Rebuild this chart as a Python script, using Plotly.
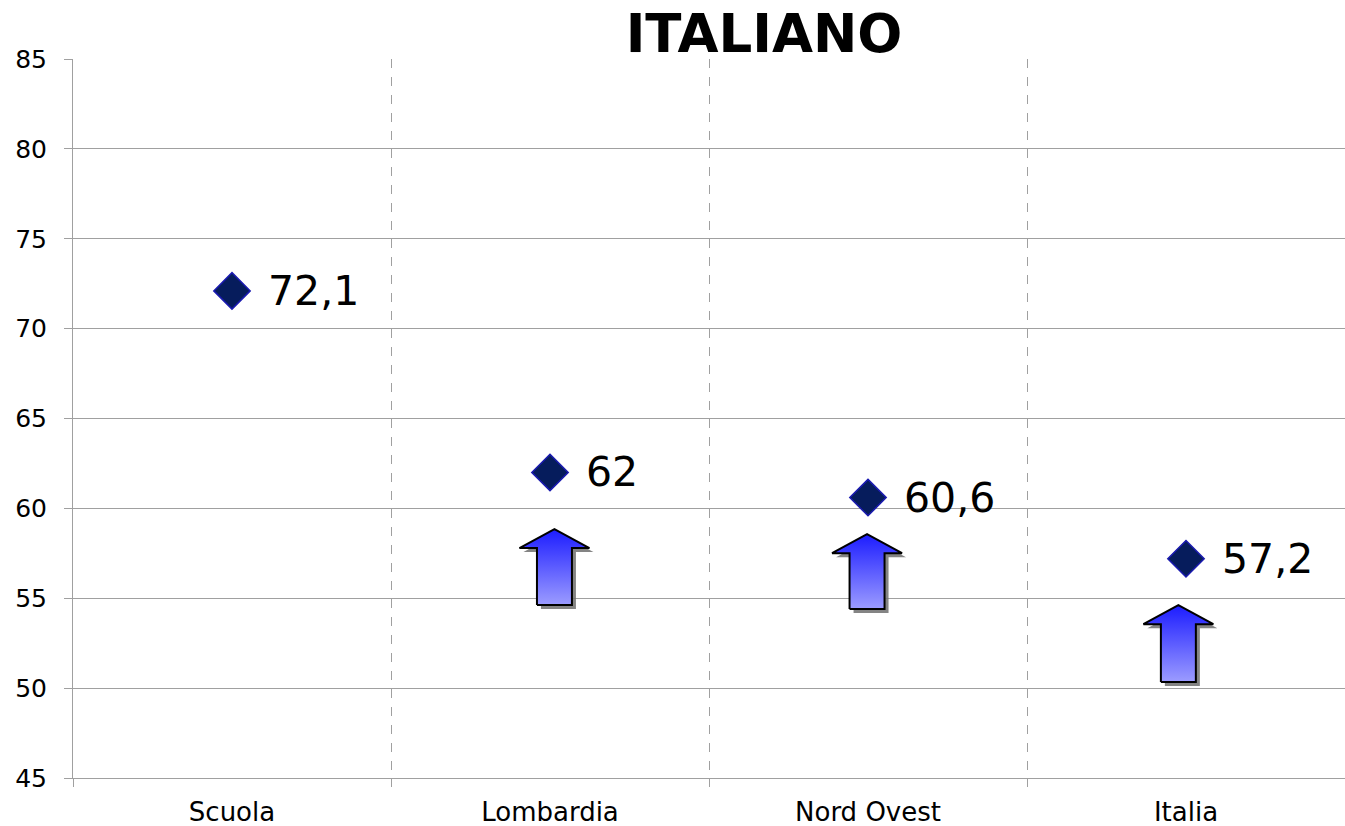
import plotly.graph_objects as go

# ---- data ----
categories = ["Scuola", "Lombardia", "Nord Ovest", "Italia"]
values = [72.1, 62.0, 60.6, 57.2]
value_labels = ["72,1", "62", "60,6", "57,2"]

# decorative "higher" arrows: position (category index), base and tip values
arrow_x = [1.014, 1.997, 2.976]
arrow_base = [54.62, 54.40, 50.34]
arrow_tip = [58.85, 58.57, 54.62]

y_ticks = [45, 50, 55, 60, 65, 70, 75, 80, 85]

FONT = "DejaVu Sans, Verdana, sans-serif"
HEAD_LEN = 1.06
HEAD_HW = 0.110
SHAFT_HW = 0.055

W, H = 1345, 826

fig = go.Figure()

# arrows (shadow first, then gradient body)
for xc, yb, yt in zip(arrow_x, arrow_base, arrow_tip):
    hb = yt - HEAD_LEN
    xs = [xc - SHAFT_HW, xc + SHAFT_HW, xc + SHAFT_HW, xc + HEAD_HW, xc,
          xc - HEAD_HW, xc - SHAFT_HW, xc - SHAFT_HW]
    ys = [yb, yb, hb, hb, yt, hb, hb, yb]
    dx, dy = 4 / 318.0, -4 / 17.975
    fig.add_trace(go.Scatter(
        x=[v + dx for v in xs], y=[v + dy for v in ys], mode="lines",
        fill="toself", fillcolor="rgba(110,110,110,0.85)",
        line=dict(width=0), hoverinfo="skip", showlegend=False))
    fig.add_trace(go.Scatter(
        x=xs, y=ys, mode="lines", fill="toself",
        fillgradient=dict(type="vertical",
                          colorscale=[[0, "#9c9cff"], [1, "#1c1cff"]]),
        line=dict(color="black", width=2), hoverinfo="skip",
        showlegend=False))

fig.add_trace(go.Scatter(
    x=list(range(len(categories))), y=values, mode="markers",
    marker=dict(symbol="diamond", size=28, color="#061c5c",
                line=dict(color="#1a1ab0", width=1.5)),
    showlegend=False, hoverinfo="skip"))

for i, (v, lab) in enumerate(zip(values, value_labels)):
    fig.add_annotation(x=i, y=v, text=lab, showarrow=False,
                       xanchor="left", yanchor="middle", xshift=34,
                       font=dict(family=FONT, size=41, color="black"))

fig.update_layout(
    width=W, height=H,
    margin=dict(l=73, r=0, t=59, b=48),
    plot_bgcolor="white", paper_bgcolor="white",
    title=dict(text="<b>ITALIANO</b>", x=764 / W, xref="container",
               xanchor="center", y=1 - 33 / H, yref="container",
               yanchor="middle",
               font=dict(family=FONT, size=53, color="black")),
    font=dict(family=FONT, color="black"),
)

fig.update_xaxes(
    range=[-0.5, len(categories) - 0.5],
    tickvals=list(range(len(categories))), ticktext=categories,
    ticks="", showgrid=False, zeroline=False, automargin=False,
    ticklabelstandoff=11,
    showline=True, linecolor="#a0a0a0", linewidth=1,
    tickfont=dict(family=FONT, size=26, color="black"),
    minor=dict(tickvals=[i - 0.5 for i in range(len(categories) + 1)],
               ticks="outside", ticklen=8, tickcolor="#a0a0a0",
               showgrid=True, gridcolor="#a0a0a0", griddash="dash",
               gridwidth=1),
)

fig.update_yaxes(
    range=[45, 85], tickvals=y_ticks, automargin=False,
    ticks="outside", ticklen=8, tickcolor="#a0a0a0",
    ticklabelstandoff=12,
    showgrid=True, gridcolor="#a0a0a0", gridwidth=1,
    zeroline=False, showline=True, linecolor="#a0a0a0", linewidth=1,
    tickfont=dict(family=FONT, size=25, color="black"),
)

fig.write_html(
    "out.html",
    config={"displayModeBar": False, "staticPlot": True},
    post_script="document.body.style.margin='0';"
                "document.body.style.overflow='hidden';",
)
